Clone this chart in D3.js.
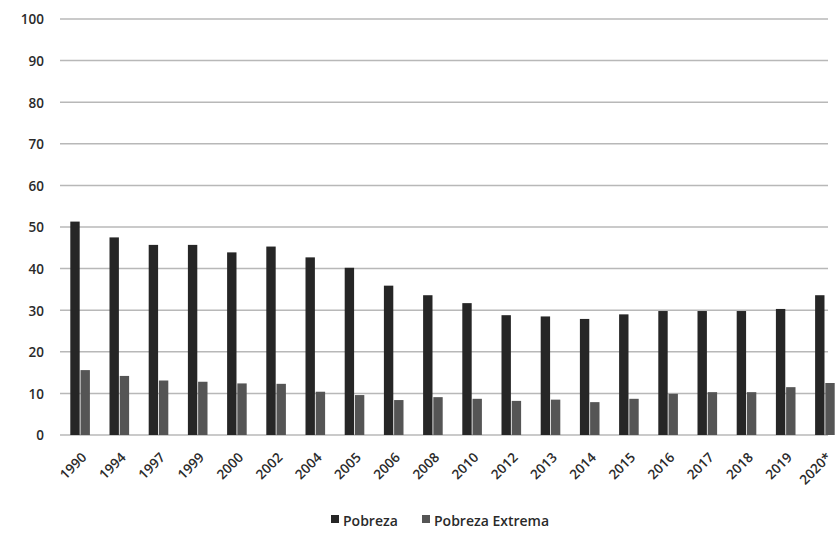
<!DOCTYPE html>
<html>
<head>
<meta charset="utf-8">
<script src="https://cdn.jsdelivr.net/npm/d3@7"></script>
<style>
  html, body { margin: 0; padding: 0; background: #fff; }
  svg { display: block; }
  text { font-family: "Open Sans", "Noto Sans", sans-serif; fill: #2a2a2a; }
</style>
</head>
<body>
<svg id="chart" width="840" height="533"></svg>
<script>
// Poverty rates by year (%)
const years = ["1990","1994","1997","1999","2000","2002","2004","2005","2006","2008",
               "2010","2012","2013","2014","2015","2016","2017","2018","2019","2020*"];
const pobreza = [51.3, 47.5, 45.7, 45.7, 43.9, 45.3, 42.7, 40.2, 35.9, 33.6,
                 31.7, 28.8, 28.5, 27.9, 29.0, 29.8, 29.8, 29.8, 30.3, 33.6];
const pobrezaExtrema = [15.6, 14.2, 13.1, 12.8, 12.4, 12.3, 10.4, 9.6, 8.4, 9.1,
                        8.7, 8.2, 8.5, 7.9, 8.7, 9.9, 10.3, 10.3, 11.5, 12.5];
const seriesNames = ["Pobreza", "Pobreza Extrema"];
const seriesColors = ["#262626", "#555555"];
const yTicks = [0, 10, 20, 30, 40, 50, 60, 70, 80, 90, 100];

const rows = years.map((y, i) => ({ year: y, values: [pobreza[i], pobrezaExtrema[i]] }));

const svg = d3.select("#chart");

const y = d3.scaleLinear().domain([0, 100]).range([435, 19]);
const x = d3.scaleBand().domain(years).range([60.5, 844.5]).paddingInner(0.5).paddingOuter(0.25);
const x1 = d3.scaleBand().domain(seriesNames).range([0, x.bandwidth()]).paddingInner(0.08);

// gridlines
svg.append("g")
  .selectAll("line")
  .data(yTicks)
  .join("line")
  .attr("x1", 60).attr("x2", 828)
  .attr("y1", d => y(d)).attr("y2", d => y(d))
  .attr("stroke", "#b8b8b8")
  .attr("stroke-width", 1.5);

// y axis labels
const yAxis = d3.axisLeft(y).tickValues(yTicks).tickSize(0).tickPadding(0);
svg.append("g")
  .attr("transform", "translate(44,0)")
  .call(yAxis)
  .call(g => g.select(".domain").remove())
  .call(g => g.selectAll("text")
    .attr("dy", "0.36em")
    .style("font-size", "13.5px")
    .style("font-weight", "600")
    .style("fill", "#2a2a2a"));

// bars
const groups = svg.append("g")
  .selectAll("g")
  .data(rows)
  .join("g")
  .attr("transform", d => `translate(${x(d.year)},0)`);

groups.selectAll("rect")
  .data(d => d.values.map((v, i) => ({ key: seriesNames[i], value: v, i })))
  .join("rect")
  .attr("x", d => x1(d.key))
  .attr("width", x1.bandwidth())
  .attr("y", d => y(d.value))
  .attr("height", d => y(0) - y(d.value))
  .attr("fill", d => seriesColors[d.i]);

// x axis labels (rotated)
const xAxis = d3.axisBottom(x).tickSize(0).tickPadding(0);
svg.append("g")
  .attr("transform", `translate(4,${y(0) + 20})`)
  .call(xAxis)
  .call(g => g.select(".domain").remove())
  .call(g => g.selectAll("text")
    .attr("text-anchor", "end")
    .attr("dy", "0.35em")
    .attr("y", 0)
    .attr("transform", "rotate(-45)")
    .style("font-size", "13.5px")
    .style("font-weight", "600")
    .style("fill", "#2a2a2a"));

// legend
const legendItems = [
  { name: seriesNames[0], color: seriesColors[0], x: 331 },
  { name: seriesNames[1], color: seriesColors[1], x: 422 }
];
const legend = svg.append("g").selectAll("g")
  .data(legendItems)
  .join("g")
  .attr("transform", d => `translate(${d.x},521)`);
legend.append("rect")
  .attr("x", 0).attr("y", -6)
  .attr("width", 8).attr("height", 8)
  .attr("fill", d => d.color);
legend.append("text")
  .attr("x", 12).attr("y", 0)
  .attr("dy", "0.35em")
  .style("font-size", "14px")
  .style("font-weight", "600")
  .text(d => d.name);
</script>
</body>
</html>
